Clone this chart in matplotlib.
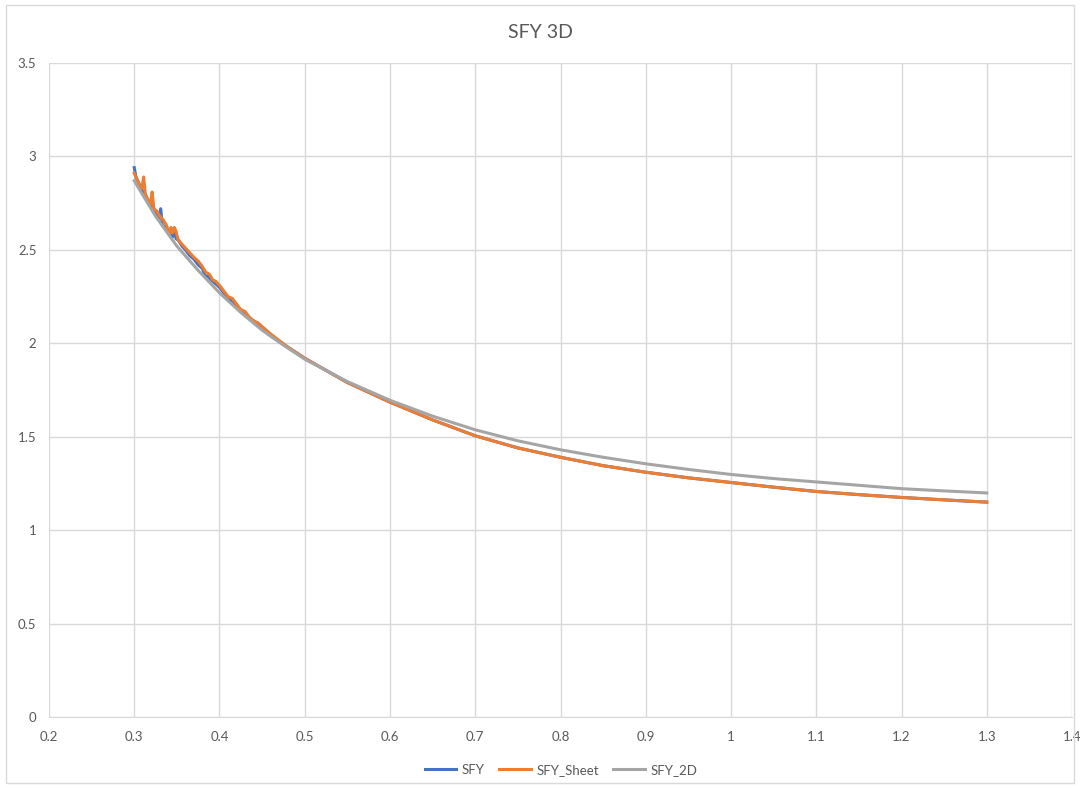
import matplotlib
matplotlib.use("Agg")
import matplotlib.pyplot as plt
from matplotlib.patches import Rectangle

plt.rcParams['font.family'] = ['Lato', 'DejaVu Sans']

title = "SFY 3D"
series_names = ["SFY", "SFY_Sheet", "SFY_2D"]
colors = ["#4472C4", "#ED7D31", "#A5A5A5"]

x_ticks = [0.2, 0.3, 0.4, 0.5, 0.6, 0.7, 0.8, 0.9, 1.0, 1.1, 1.2, 1.3, 1.4]
x_tick_labels = ["0.2", "0.3", "0.4", "0.5", "0.6", "0.7", "0.8", "0.9", "1", "1.1", "1.2", "1.3", "1.4"]
y_ticks = [0, 0.5, 1, 1.5, 2, 2.5, 3, 3.5]
y_tick_labels = ["0", "0.5", "1", "1.5", "2", "2.5", "3", "3.5"]

# SFY (blue) - jagged at low x
sfy_x = [0.300, 0.302, 0.305, 0.308, 0.311, 0.315, 0.318, 0.321, 0.325, 0.329, 0.331, 0.333,
         0.337, 0.341, 0.345, 0.347, 0.349, 0.352, 0.356, 0.360, 0.365, 0.370, 0.375, 0.380,
         0.383, 0.386, 0.390, 0.395, 0.400, 0.405, 0.410, 0.413, 0.416, 0.420, 0.425, 0.430,
         0.435, 0.440, 0.445, 0.450, 0.460, 0.48, 0.50, 0.55, 0.60, 0.65, 0.70, 0.75, 0.80,
         0.85, 0.90, 0.95, 1.00, 1.05, 1.10, 1.15, 1.20, 1.25, 1.30]
sfy_y = [2.94, 2.89, 2.86, 2.83, 2.80, 2.77, 2.75, 2.73, 2.70, 2.67, 2.72, 2.63,
         2.62, 2.60, 2.57, 2.61, 2.56, 2.55, 2.52, 2.50, 2.47, 2.45, 2.42, 2.40,
         2.36, 2.36, 2.34, 2.32, 2.30, 2.27, 2.24, 2.23, 2.22, 2.20, 2.17, 2.16,
         2.13, 2.12, 2.10, 2.08, 2.04, 1.98, 1.92, 1.79, 1.685, 1.59, 1.505, 1.44, 1.39,
         1.345, 1.31, 1.28, 1.255, 1.23, 1.207, 1.19, 1.175, 1.162, 1.15]

# SFY_Sheet (orange)
sheet_x = [0.300, 0.303, 0.306, 0.309, 0.311, 0.313, 0.316, 0.319, 0.321, 0.323, 0.326, 0.330,
           0.334, 0.338, 0.341, 0.343, 0.345, 0.347, 0.349, 0.351, 0.354, 0.358, 0.362, 0.366,
           0.370, 0.375, 0.380, 0.384, 0.388, 0.392, 0.396, 0.400, 0.405, 0.410, 0.415, 0.420,
           0.425, 0.430, 0.435, 0.440, 0.445, 0.450, 0.455, 0.460, 0.48, 0.50, 0.55, 0.60, 0.65,
           0.70, 0.75, 0.80, 0.85, 0.90, 0.95, 1.00, 1.05, 1.10, 1.15, 1.20, 1.25, 1.30]
sheet_y = [2.91, 2.88, 2.85, 2.83, 2.89, 2.80, 2.77, 2.74, 2.81, 2.72, 2.71, 2.68,
           2.66, 2.63, 2.58, 2.62, 2.59, 2.62, 2.60, 2.56, 2.54, 2.52, 2.50, 2.48,
           2.46, 2.44, 2.41, 2.38, 2.37, 2.34, 2.33, 2.31, 2.28, 2.25, 2.24, 2.21,
           2.18, 2.17, 2.14, 2.12, 2.11, 2.09, 2.07, 2.05, 1.98, 1.92, 1.79, 1.685, 1.59,
           1.505, 1.44, 1.39, 1.345, 1.31, 1.28, 1.255, 1.23, 1.207, 1.19, 1.175, 1.162, 1.15]

# SFY_2D (gray) - smooth
d2_x = [0.30, 0.325, 0.35, 0.375, 0.40, 0.425, 0.45, 0.475, 0.50, 0.55, 0.60, 0.65, 0.70, 0.75,
        0.80, 0.85, 0.90, 0.95, 1.00, 1.05, 1.10, 1.15, 1.20, 1.25, 1.30]
d2_y = [2.87, 2.68, 2.52, 2.39, 2.27, 2.165, 2.07, 1.99, 1.915, 1.795, 1.695, 1.61, 1.537, 1.478,
        1.43, 1.39, 1.355, 1.325, 1.298, 1.276, 1.258, 1.24, 1.222, 1.21, 1.199]

fig = plt.figure(figsize=(10.8, 7.88), dpi=100)
ax = fig.add_axes([49/1080, 1 - 717/788, (1072-49)/1080, (717-63)/788])

ax.plot(sfy_x, sfy_y, color=colors[0], lw=2.2, label=series_names[0], solid_joinstyle='round')
ax.plot(sheet_x, sheet_y, color=colors[1], lw=2.2, label=series_names[1], solid_joinstyle='round')
ax.plot(d2_x, d2_y, color=colors[2], lw=2.2, label=series_names[2], solid_joinstyle='round')

ax.set_xlim(0.2, 1.4)
ax.set_ylim(0, 3.5)
ax.set_xticks(x_ticks)
ax.set_xticklabels(x_tick_labels)
ax.set_yticks(y_ticks)
ax.set_yticklabels(y_tick_labels)
ax.grid(True, color="#D9D9D9", lw=1.0)
ax.set_axisbelow(True)
for s in ax.spines.values():
    s.set_visible(False)
ax.spines['bottom'].set_visible(True)
ax.spines['bottom'].set_color("#D9D9D9")
ax.tick_params(axis='both', length=0, labelsize=9.5, labelcolor="#595959")
ax.tick_params(axis='x', pad=10)
ax.tick_params(axis='y', pad=9)

fig.text(0.5, 1 - 33/788, title, ha='center', va='center', fontsize=14, color="#595959")

leg = fig.legend(loc='center', bbox_to_anchor=(561/1080, 1 - 770/788), ncol=3, frameon=False,
                 fontsize=9.5, handlelength=2.4, columnspacing=1.1, handletextpad=0.4)
for t in leg.get_texts():
    t.set_color("#595959")

fig.patches.append(Rectangle((6/1080, 1 - 783/788), 1068/1080, 778/788, transform=fig.transFigure,
                             fill=False, edgecolor="#D9D9D9", lw=1.0))

fig.savefig("out.png", dpi=100)
